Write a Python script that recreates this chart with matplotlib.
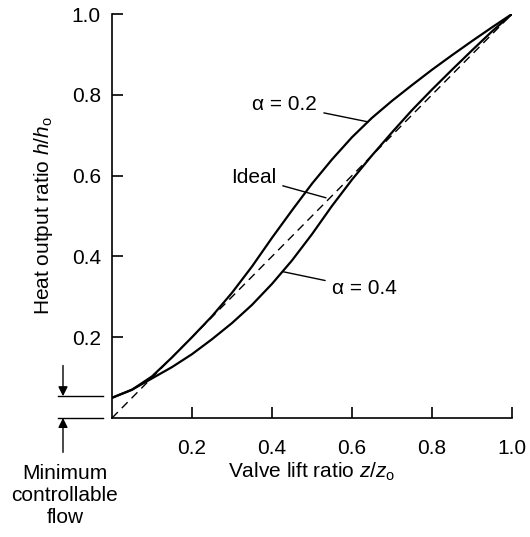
import matplotlib
matplotlib.use("Agg")
import matplotlib.pyplot as plt

plt.rcParams['font.family'] = ['Liberation Sans', 'DejaVu Sans']
plt.rcParams['mathtext.fontset'] = 'custom'
plt.rcParams['mathtext.rm'] = 'Liberation Sans'
plt.rcParams['mathtext.it'] = 'Liberation Sans:italic'

# Data
alpha02_x = [0.0, 0.05, 0.10, 0.15, 0.20, 0.25, 0.30, 0.35, 0.40, 0.45, 0.50, 0.55, 0.60, 0.65, 0.70, 0.75, 0.80, 0.85, 0.90, 0.95, 1.0]
alpha02_y = [0.05, 0.070, 0.103, 0.150, 0.200, 0.252, 0.310, 0.375, 0.446, 0.514, 0.580, 0.640, 0.695, 0.743, 0.785, 0.824, 0.862, 0.898, 0.933, 0.967, 1.0]
alpha04_x = [0.0, 0.05, 0.10, 0.15, 0.20, 0.25, 0.30, 0.35, 0.40, 0.45, 0.50, 0.55, 0.60, 0.65, 0.70, 0.75, 0.80, 0.85, 0.90, 0.95, 1.0]
alpha04_y = [0.05, 0.070, 0.098, 0.126, 0.158, 0.195, 0.235, 0.280, 0.332, 0.390, 0.455, 0.525, 0.590, 0.650, 0.707, 0.762, 0.813, 0.862, 0.910, 0.957, 1.0]
ideal_x = [0.0, 1.0]
ideal_y = [0.0, 1.0]
min_flow = 0.054
ticks = [0.2, 0.4, 0.6, 0.8, 1.0]
tick_labels = ['0.2', '0.4', '0.6', '0.8', '1.0']

FS = 15

fig = plt.figure(figsize=(5.30, 5.37), dpi=100)
ax = fig.add_axes([112/530, 1 - 418/537, 400/530, 404/537])
ax.set_xlim(0, 1.0)
ax.set_ylim(0, 1.0)

lw = 1.6
ax.plot(alpha02_x, alpha02_y, color='black', lw=lw, solid_capstyle='round', solid_joinstyle='round')
ax.plot(alpha04_x, alpha04_y, color='black', lw=lw, solid_capstyle='round', solid_joinstyle='round')
ax.plot(ideal_x, ideal_y, color='black', lw=1.0, dashes=(6, 4))

for s in ['top', 'right']:
    ax.spines[s].set_visible(False)
for s in ['left', 'bottom']:
    ax.spines[s].set_linewidth(1.2)

ax.set_xticks(ticks)
ax.set_xticklabels(tick_labels)
ax.set_yticks(ticks)
ax.set_yticklabels(tick_labels)
ax.tick_params(direction='in', length=8, width=1.2, labelsize=FS)
ax.tick_params(axis='x', pad=15)
ax.tick_params(axis='y', pad=8)

ax.set_xlabel(r'Valve lift ratio $z/z_{\rm o}$', fontsize=FS, labelpad=2)
ax.set_ylabel(r'Heat output ratio $h/h_{\rm o}$', fontsize=FS, labelpad=12)

# Curve labels with leader lines
ax.annotate('α = 0.2', xy=(0.64, 0.733), xytext=(0.5125, 0.775),
            fontsize=FS, ha='right', va='center',
            arrowprops=dict(arrowstyle='-', color='black', lw=1.0, shrinkA=3, shrinkB=0))
ax.annotate('Ideal', xy=(0.535, 0.545), xytext=(0.41, 0.595),
            fontsize=FS, ha='right', va='center',
            arrowprops=dict(arrowstyle='-', color='black', lw=1.0, shrinkA=3, shrinkB=0))
ax.annotate('α = 0.4', xy=(0.428, 0.362), xytext=(0.55, 0.32),
            fontsize=FS, ha='left', va='center',
            arrowprops=dict(arrowstyle='-', color='black', lw=1.0, shrinkA=3, shrinkB=0))

# Minimum controllable flow marker
ax.plot([-0.135, -0.0225], [min_flow, min_flow], color='black', lw=1.0, clip_on=False)
ax.plot([-0.135, -0.0225], [0, 0], color='black', lw=1.0, clip_on=False)
ax.annotate('', xy=(-0.1225, min_flow), xytext=(-0.1225, 0.13),
            annotation_clip=False,
            arrowprops=dict(arrowstyle='-|>', color='black', lw=1.0, mutation_scale=14, shrinkA=0, shrinkB=0))
ax.annotate('', xy=(-0.1225, 0.0), xytext=(-0.1225, -0.085),
            annotation_clip=False,
            arrowprops=dict(arrowstyle='-|>', color='black', lw=1.0, mutation_scale=14, shrinkA=0, shrinkB=0))
ax.text(-0.1175, -0.115, 'Minimum\ncontrollable\nflow', fontsize=FS, ha='center', va='top',
        linespacing=1.2, clip_on=False)

fig.savefig('out.png', dpi=100)
